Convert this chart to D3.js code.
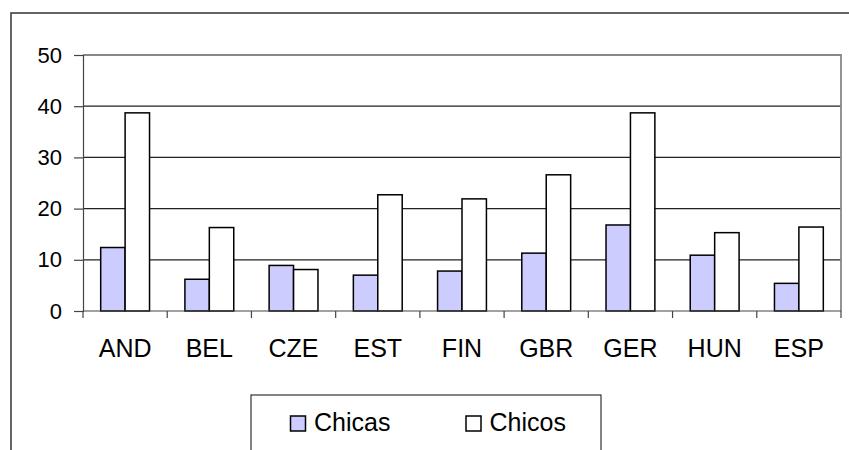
<!DOCTYPE html>
<html>
<head>
<meta charset="utf-8">
<script src="https://cdn.jsdelivr.net/npm/d3@7"></script>
<style>
  html, body { margin: 0; padding: 0; background: #fff; }
  svg { display: block; }
  text { font-family: "Liberation Sans", Arial, sans-serif; fill: #000; }
</style>
</head>
<body>
<svg id="chart" width="849" height="450"></svg>
<script>
const categories = ["AND", "BEL", "CZE", "EST", "FIN", "GBR", "GER", "HUN", "ESP"];
const seriesNames = ["Chicas", "Chicos"];
const chicas = [12.4, 6.2, 8.9, 7.0, 7.8, 11.3, 16.8, 10.9, 5.4];
const chicos = [38.7, 16.3, 8.1, 22.7, 21.9, 26.6, 38.7, 15.3, 16.4];
const yTicks = [0, 10, 20, 30, 40, 50];
const seriesColors = ["#ccccff", "#ffffff"];

const svg = d3.select("#chart");
const plot = { left: 83, right: 841, top: 55, bottom: 311 };

// outer frame (top and left edges visible)
svg.append("path")
  .attr("d", `M11,450 L11,13 L849,13`)
  .attr("fill", "none").attr("stroke", "#333").attr("stroke-width", 1.5);

const x = d3.scaleBand().domain(categories).range([plot.left, plot.right]).paddingInner(0).paddingOuter(0);
const groupW = x.bandwidth() * 0.58;
const x1 = d3.scaleBand().domain(seriesNames).range([0, groupW]).padding(0);
const y = d3.scaleLinear().domain([0, 50]).range([plot.bottom, plot.top]);

// gridlines
svg.append("g").selectAll("line").data(yTicks.filter(t => t > 0 && t < 50)).join("line")
  .attr("x1", plot.left).attr("x2", plot.right)
  .attr("y1", d => y(d)).attr("y2", d => y(d))
  .attr("stroke", "#222").attr("stroke-width", 1.2);

// plot border top/right (gray)
svg.append("path")
  .attr("d", `M${plot.left},${y(50)} L${plot.right},${y(50)} L${plot.right},${plot.bottom}`)
  .attr("fill", "none").attr("stroke", "#888").attr("stroke-width", 1.8);

// bars
const data = categories.map((c, i) => ({ cat: c, vals: [chicas[i], chicos[i]] }));
const groups = svg.append("g").selectAll("g").data(data).join("g")
  .attr("transform", d => `translate(${x(d.cat) + (x.bandwidth() - groupW) / 2},0)`);
groups.selectAll("rect").data(d => d.vals.map((v, j) => ({ name: seriesNames[j], v, j }))).join("rect")
  .attr("x", d => x1(d.name))
  .attr("width", x1.bandwidth())
  .attr("y", d => y(d.v))
  .attr("height", d => y(0) - y(d.v))
  .attr("fill", d => seriesColors[d.j])
  .attr("stroke", "#000").attr("stroke-width", 1.5);

// y axis
const yAxis = d3.axisLeft(y).tickValues(yTicks).tickSize(9).tickPadding(12);
const gy = svg.append("g").attr("transform", `translate(${plot.left},0)`).call(yAxis);
gy.select(".domain").attr("stroke", "#444").attr("stroke-width", 1.2);
gy.selectAll(".tick line").attr("stroke", "#444").attr("stroke-width", 1.2);
gy.selectAll(".tick text").attr("font-size", 22).attr("font-family", "Liberation Sans, Arial, sans-serif");

// x axis
const gx = svg.append("g").attr("transform", `translate(0,${plot.bottom})`);
gx.append("line").attr("x1", plot.left).attr("x2", plot.right).attr("y1", 0).attr("y2", 0)
  .attr("stroke", "#444").attr("stroke-width", 1.2);
const bounds = categories.map(c => x(c)).concat([plot.right]);
gx.selectAll("line.tk").data(bounds).join("line").attr("class", "tk")
  .attr("x1", d => d).attr("x2", d => d).attr("y1", 0).attr("y2", 7)
  .attr("stroke", "#444").attr("stroke-width", 1.2);
gx.selectAll("text").data(categories).join("text")
  .attr("x", d => x(d) + x.bandwidth() / 2).attr("y", 46)
  .attr("text-anchor", "middle").attr("font-size", 25).text(d => d);

// legend
const lg = svg.append("g");
lg.append("rect").attr("x", 251).attr("y", 395).attr("width", 350).attr("height", 100)
  .attr("fill", "#fff").attr("stroke", "#333").attr("stroke-width", 1.2);
const legendX = [290.5, 466];
const items = lg.selectAll("g").data(seriesNames).join("g")
  .attr("transform", (d, i) => `translate(${legendX[i]},416)`);
items.append("rect").attr("width", 15).attr("height", 15)
  .attr("fill", (d, i) => seriesColors[i]).attr("stroke", "#000").attr("stroke-width", 1.5);
items.append("text").attr("x", 23.5).attr("y", 15).attr("font-size", 25).text(d => d);
</script>
</body>
</html>
